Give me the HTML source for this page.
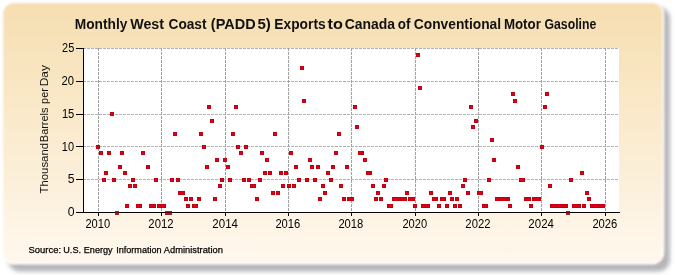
<!DOCTYPE html>
<html><head><meta charset="utf-8">
<style>
html,body{margin:0;padding:0;background:#fff;}
body{width:675px;height:275px;overflow:hidden;}
svg{display:block;}
text{font-family:"Liberation Sans",sans-serif;}
</style></head><body>
<svg width="675" height="275" viewBox="0 0 675 275">
<defs>
<linearGradient id="bg" x1="0" y1="0" x2="0" y2="1">
<stop offset="0" stop-color="#F6DEB0"/>
<stop offset="1" stop-color="#FFF8EE"/>
</linearGradient>
<filter id="sh" x="-5%" y="-5%" width="110%" height="110%"><feGaussianBlur stdDeviation="2.2"/></filter>
<filter id="soft" x="-2%" y="-2%" width="104%" height="104%"><feGaussianBlur stdDeviation="1.0"/></filter>
<filter id="gs" x="0" y="0" width="675" height="275" filterUnits="userSpaceOnUse"><feOffset dx="0" dy="0"/></filter>
</defs>
<rect x="8" y="7" width="662" height="264.5" rx="12" fill="#b6b6ba" filter="url(#sh)"/>
<rect x="2.3" y="2.3" width="661.2" height="261.4" rx="11.5" fill="url(#bg)" stroke="#fff" stroke-width="1.6" filter="url(#soft)"/>
<rect x="84" y="48" width="535" height="164" fill="#fff"/>
<g stroke="#a4a4a4" stroke-width="1" stroke-dasharray="3,1" fill="none" shape-rendering="crispEdges">
<line x1="84" y1="48.5" x2="619" y2="48.5" stroke="#b3b3b3" stroke-dashoffset="1"/>
<line x1="84" y1="81.5" x2="619" y2="81.5" stroke="#b3b3b3" stroke-dashoffset="1"/>
<line x1="84" y1="114.5" x2="619" y2="114.5" stroke="#b3b3b3" stroke-dashoffset="1"/>
<line x1="84" y1="146.5" x2="619" y2="146.5" stroke="#b3b3b3" stroke-dashoffset="1"/>
<line x1="84" y1="179.5" x2="619" y2="179.5" stroke="#b3b3b3" stroke-dashoffset="1"/>
<line x1="98.5" y1="48" x2="98.5" y2="212" stroke="#a0a0a0"/>
<line x1="161.5" y1="48" x2="161.5" y2="212" stroke="#a0a0a0"/>
<line x1="225.5" y1="48" x2="225.5" y2="212" stroke="#a0a0a0"/>
<line x1="288.5" y1="48" x2="288.5" y2="212" stroke="#a0a0a0"/>
<line x1="351.5" y1="48" x2="351.5" y2="212" stroke="#a0a0a0"/>
<line x1="415.5" y1="48" x2="415.5" y2="212" stroke="#a0a0a0"/>
<line x1="478.5" y1="48" x2="478.5" y2="212" stroke="#a0a0a0"/>
<line x1="541.5" y1="48" x2="541.5" y2="212" stroke="#a0a0a0"/>
<line x1="605.5" y1="48" x2="605.5" y2="212" stroke="#a0a0a0"/>
</g>
<g fill="#B8000E">
<rect x="96" y="145" width="4" height="4"/>
<rect x="99" y="151" width="4" height="4"/>
<rect x="102" y="178" width="4" height="4"/>
<rect x="104" y="171" width="4" height="4"/>
<rect x="107" y="151" width="4" height="4"/>
<rect x="110" y="112" width="4" height="4"/>
<rect x="112" y="178" width="4" height="4"/>
<rect x="118" y="165" width="4" height="4"/>
<rect x="120" y="151" width="4" height="4"/>
<rect x="123" y="171" width="4" height="4"/>
<rect x="125" y="204" width="4" height="4"/>
<rect x="128" y="184" width="4" height="4"/>
<rect x="131" y="178" width="4" height="4"/>
<rect x="133" y="184" width="4" height="4"/>
<rect x="136" y="204" width="4" height="4"/>
<rect x="138" y="204" width="4" height="4"/>
<rect x="141" y="151" width="4" height="4"/>
<rect x="146" y="165" width="4" height="4"/>
<rect x="149" y="204" width="4" height="4"/>
<rect x="152" y="204" width="4" height="4"/>
<rect x="154" y="178" width="4" height="4"/>
<rect x="157" y="204" width="4" height="4"/>
<rect x="160" y="204" width="4" height="4"/>
<rect x="162" y="204" width="4" height="4"/>
<rect x="170" y="178" width="4" height="4"/>
<rect x="173" y="132" width="4" height="4"/>
<rect x="176" y="178" width="4" height="4"/>
<rect x="178" y="191" width="4" height="4"/>
<rect x="181" y="191" width="4" height="4"/>
<rect x="184" y="197" width="4" height="4"/>
<rect x="186" y="204" width="4" height="4"/>
<rect x="189" y="197" width="4" height="4"/>
<rect x="192" y="204" width="4" height="4"/>
<rect x="194" y="204" width="4" height="4"/>
<rect x="197" y="197" width="4" height="4"/>
<rect x="199" y="132" width="4" height="4"/>
<rect x="202" y="145" width="4" height="4"/>
<rect x="205" y="165" width="4" height="4"/>
<rect x="207" y="105" width="4" height="4"/>
<rect x="210" y="119" width="4" height="4"/>
<rect x="213" y="197" width="4" height="4"/>
<rect x="215" y="158" width="4" height="4"/>
<rect x="218" y="184" width="4" height="4"/>
<rect x="220" y="178" width="4" height="4"/>
<rect x="223" y="158" width="4" height="4"/>
<rect x="226" y="165" width="4" height="4"/>
<rect x="228" y="178" width="4" height="4"/>
<rect x="231" y="132" width="4" height="4"/>
<rect x="234" y="105" width="4" height="4"/>
<rect x="236" y="145" width="4" height="4"/>
<rect x="239" y="151" width="4" height="4"/>
<rect x="242" y="178" width="4" height="4"/>
<rect x="244" y="145" width="4" height="4"/>
<rect x="247" y="178" width="4" height="4"/>
<rect x="250" y="184" width="4" height="4"/>
<rect x="252" y="184" width="4" height="4"/>
<rect x="255" y="197" width="4" height="4"/>
<rect x="258" y="178" width="4" height="4"/>
<rect x="260" y="151" width="4" height="4"/>
<rect x="263" y="171" width="4" height="4"/>
<rect x="265" y="158" width="4" height="4"/>
<rect x="268" y="171" width="4" height="4"/>
<rect x="271" y="191" width="4" height="4"/>
<rect x="273" y="132" width="4" height="4"/>
<rect x="276" y="191" width="4" height="4"/>
<rect x="279" y="171" width="4" height="4"/>
<rect x="281" y="184" width="4" height="4"/>
<rect x="284" y="171" width="4" height="4"/>
<rect x="287" y="184" width="4" height="4"/>
<rect x="289" y="151" width="4" height="4"/>
<rect x="292" y="184" width="4" height="4"/>
<rect x="294" y="165" width="4" height="4"/>
<rect x="297" y="178" width="4" height="4"/>
<rect x="300" y="66" width="4" height="4"/>
<rect x="302" y="99" width="4" height="4"/>
<rect x="305" y="178" width="4" height="4"/>
<rect x="308" y="158" width="4" height="4"/>
<rect x="310" y="165" width="4" height="4"/>
<rect x="313" y="178" width="4" height="4"/>
<rect x="316" y="165" width="4" height="4"/>
<rect x="318" y="197" width="4" height="4"/>
<rect x="321" y="184" width="4" height="4"/>
<rect x="323" y="191" width="4" height="4"/>
<rect x="326" y="171" width="4" height="4"/>
<rect x="329" y="178" width="4" height="4"/>
<rect x="331" y="165" width="4" height="4"/>
<rect x="334" y="151" width="4" height="4"/>
<rect x="337" y="132" width="4" height="4"/>
<rect x="339" y="184" width="4" height="4"/>
<rect x="342" y="197" width="4" height="4"/>
<rect x="345" y="165" width="4" height="4"/>
<rect x="347" y="197" width="4" height="4"/>
<rect x="350" y="197" width="4" height="4"/>
<rect x="353" y="105" width="4" height="4"/>
<rect x="355" y="125" width="4" height="4"/>
<rect x="358" y="151" width="4" height="4"/>
<rect x="360" y="151" width="4" height="4"/>
<rect x="363" y="158" width="4" height="4"/>
<rect x="366" y="171" width="4" height="4"/>
<rect x="368" y="171" width="4" height="4"/>
<rect x="371" y="184" width="4" height="4"/>
<rect x="374" y="197" width="4" height="4"/>
<rect x="376" y="191" width="4" height="4"/>
<rect x="379" y="197" width="4" height="4"/>
<rect x="382" y="184" width="4" height="4"/>
<rect x="384" y="178" width="4" height="4"/>
<rect x="387" y="204" width="4" height="4"/>
<rect x="389" y="204" width="4" height="4"/>
<rect x="392" y="197" width="4" height="4"/>
<rect x="395" y="197" width="4" height="4"/>
<rect x="397" y="197" width="4" height="4"/>
<rect x="400" y="197" width="4" height="4"/>
<rect x="403" y="197" width="4" height="4"/>
<rect x="405" y="191" width="4" height="4"/>
<rect x="408" y="197" width="4" height="4"/>
<rect x="411" y="197" width="4" height="4"/>
<rect x="413" y="204" width="4" height="4"/>
<rect x="416" y="53" width="4" height="4"/>
<rect x="418" y="86" width="4" height="4"/>
<rect x="421" y="204" width="4" height="4"/>
<rect x="424" y="204" width="4" height="4"/>
<rect x="426" y="204" width="4" height="4"/>
<rect x="429" y="191" width="4" height="4"/>
<rect x="432" y="197" width="4" height="4"/>
<rect x="434" y="197" width="4" height="4"/>
<rect x="437" y="204" width="4" height="4"/>
<rect x="440" y="197" width="4" height="4"/>
<rect x="442" y="197" width="4" height="4"/>
<rect x="445" y="204" width="4" height="4"/>
<rect x="448" y="191" width="4" height="4"/>
<rect x="450" y="197" width="4" height="4"/>
<rect x="453" y="204" width="4" height="4"/>
<rect x="455" y="197" width="4" height="4"/>
<rect x="458" y="204" width="4" height="4"/>
<rect x="461" y="184" width="4" height="4"/>
<rect x="463" y="178" width="4" height="4"/>
<rect x="466" y="191" width="4" height="4"/>
<rect x="469" y="105" width="4" height="4"/>
<rect x="471" y="125" width="4" height="4"/>
<rect x="474" y="119" width="4" height="4"/>
<rect x="477" y="191" width="4" height="4"/>
<rect x="479" y="191" width="4" height="4"/>
<rect x="482" y="204" width="4" height="4"/>
<rect x="484" y="204" width="4" height="4"/>
<rect x="487" y="178" width="4" height="4"/>
<rect x="490" y="138" width="4" height="4"/>
<rect x="492" y="158" width="4" height="4"/>
<rect x="495" y="197" width="4" height="4"/>
<rect x="498" y="197" width="4" height="4"/>
<rect x="500" y="197" width="4" height="4"/>
<rect x="503" y="197" width="4" height="4"/>
<rect x="506" y="197" width="4" height="4"/>
<rect x="508" y="204" width="4" height="4"/>
<rect x="511" y="92" width="4" height="4"/>
<rect x="513" y="99" width="4" height="4"/>
<rect x="516" y="165" width="4" height="4"/>
<rect x="519" y="178" width="4" height="4"/>
<rect x="521" y="178" width="4" height="4"/>
<rect x="524" y="197" width="4" height="4"/>
<rect x="527" y="197" width="4" height="4"/>
<rect x="529" y="204" width="4" height="4"/>
<rect x="532" y="197" width="4" height="4"/>
<rect x="535" y="197" width="4" height="4"/>
<rect x="537" y="197" width="4" height="4"/>
<rect x="540" y="145" width="4" height="4"/>
<rect x="543" y="105" width="4" height="4"/>
<rect x="545" y="92" width="4" height="4"/>
<rect x="548" y="184" width="4" height="4"/>
<rect x="550" y="204" width="4" height="4"/>
<rect x="553" y="204" width="4" height="4"/>
<rect x="556" y="204" width="4" height="4"/>
<rect x="558" y="204" width="4" height="4"/>
<rect x="561" y="204" width="4" height="4"/>
<rect x="564" y="204" width="4" height="4"/>
<rect x="569" y="178" width="4" height="4"/>
<rect x="572" y="204" width="4" height="4"/>
<rect x="574" y="204" width="4" height="4"/>
<rect x="577" y="204" width="4" height="4"/>
<rect x="580" y="171" width="4" height="4"/>
<rect x="582" y="204" width="4" height="4"/>
<rect x="585" y="191" width="4" height="4"/>
<rect x="587" y="197" width="4" height="4"/>
<rect x="590" y="204" width="4" height="4"/>
<rect x="593" y="204" width="4" height="4"/>
<rect x="595" y="204" width="4" height="4"/>
<rect x="598" y="204" width="4" height="4"/>
<rect x="601" y="204" width="4" height="4"/>
</g>
<g fill="#DE001A">
<rect x="96.7" y="145.7" width="2.6" height="2.6"/>
<rect x="99.7" y="151.7" width="2.6" height="2.6"/>
<rect x="102.7" y="178.7" width="2.6" height="2.6"/>
<rect x="104.7" y="171.7" width="2.6" height="2.6"/>
<rect x="107.7" y="151.7" width="2.6" height="2.6"/>
<rect x="110.7" y="112.7" width="2.6" height="2.6"/>
<rect x="112.7" y="178.7" width="2.6" height="2.6"/>
<rect x="118.7" y="165.7" width="2.6" height="2.6"/>
<rect x="120.7" y="151.7" width="2.6" height="2.6"/>
<rect x="123.7" y="171.7" width="2.6" height="2.6"/>
<rect x="125.7" y="204.7" width="2.6" height="2.6"/>
<rect x="128.7" y="184.7" width="2.6" height="2.6"/>
<rect x="131.7" y="178.7" width="2.6" height="2.6"/>
<rect x="133.7" y="184.7" width="2.6" height="2.6"/>
<rect x="136.7" y="204.7" width="2.6" height="2.6"/>
<rect x="138.7" y="204.7" width="2.6" height="2.6"/>
<rect x="141.7" y="151.7" width="2.6" height="2.6"/>
<rect x="146.7" y="165.7" width="2.6" height="2.6"/>
<rect x="149.7" y="204.7" width="2.6" height="2.6"/>
<rect x="152.7" y="204.7" width="2.6" height="2.6"/>
<rect x="154.7" y="178.7" width="2.6" height="2.6"/>
<rect x="157.7" y="204.7" width="2.6" height="2.6"/>
<rect x="160.7" y="204.7" width="2.6" height="2.6"/>
<rect x="162.7" y="204.7" width="2.6" height="2.6"/>
<rect x="170.7" y="178.7" width="2.6" height="2.6"/>
<rect x="173.7" y="132.7" width="2.6" height="2.6"/>
<rect x="176.7" y="178.7" width="2.6" height="2.6"/>
<rect x="178.7" y="191.7" width="2.6" height="2.6"/>
<rect x="181.7" y="191.7" width="2.6" height="2.6"/>
<rect x="184.7" y="197.7" width="2.6" height="2.6"/>
<rect x="186.7" y="204.7" width="2.6" height="2.6"/>
<rect x="189.7" y="197.7" width="2.6" height="2.6"/>
<rect x="192.7" y="204.7" width="2.6" height="2.6"/>
<rect x="194.7" y="204.7" width="2.6" height="2.6"/>
<rect x="197.7" y="197.7" width="2.6" height="2.6"/>
<rect x="199.7" y="132.7" width="2.6" height="2.6"/>
<rect x="202.7" y="145.7" width="2.6" height="2.6"/>
<rect x="205.7" y="165.7" width="2.6" height="2.6"/>
<rect x="207.7" y="105.7" width="2.6" height="2.6"/>
<rect x="210.7" y="119.7" width="2.6" height="2.6"/>
<rect x="213.7" y="197.7" width="2.6" height="2.6"/>
<rect x="215.7" y="158.7" width="2.6" height="2.6"/>
<rect x="218.7" y="184.7" width="2.6" height="2.6"/>
<rect x="220.7" y="178.7" width="2.6" height="2.6"/>
<rect x="223.7" y="158.7" width="2.6" height="2.6"/>
<rect x="226.7" y="165.7" width="2.6" height="2.6"/>
<rect x="228.7" y="178.7" width="2.6" height="2.6"/>
<rect x="231.7" y="132.7" width="2.6" height="2.6"/>
<rect x="234.7" y="105.7" width="2.6" height="2.6"/>
<rect x="236.7" y="145.7" width="2.6" height="2.6"/>
<rect x="239.7" y="151.7" width="2.6" height="2.6"/>
<rect x="242.7" y="178.7" width="2.6" height="2.6"/>
<rect x="244.7" y="145.7" width="2.6" height="2.6"/>
<rect x="247.7" y="178.7" width="2.6" height="2.6"/>
<rect x="250.7" y="184.7" width="2.6" height="2.6"/>
<rect x="252.7" y="184.7" width="2.6" height="2.6"/>
<rect x="255.7" y="197.7" width="2.6" height="2.6"/>
<rect x="258.7" y="178.7" width="2.6" height="2.6"/>
<rect x="260.7" y="151.7" width="2.6" height="2.6"/>
<rect x="263.7" y="171.7" width="2.6" height="2.6"/>
<rect x="265.7" y="158.7" width="2.6" height="2.6"/>
<rect x="268.7" y="171.7" width="2.6" height="2.6"/>
<rect x="271.7" y="191.7" width="2.6" height="2.6"/>
<rect x="273.7" y="132.7" width="2.6" height="2.6"/>
<rect x="276.7" y="191.7" width="2.6" height="2.6"/>
<rect x="279.7" y="171.7" width="2.6" height="2.6"/>
<rect x="281.7" y="184.7" width="2.6" height="2.6"/>
<rect x="284.7" y="171.7" width="2.6" height="2.6"/>
<rect x="287.7" y="184.7" width="2.6" height="2.6"/>
<rect x="289.7" y="151.7" width="2.6" height="2.6"/>
<rect x="292.7" y="184.7" width="2.6" height="2.6"/>
<rect x="294.7" y="165.7" width="2.6" height="2.6"/>
<rect x="297.7" y="178.7" width="2.6" height="2.6"/>
<rect x="300.7" y="66.7" width="2.6" height="2.6"/>
<rect x="302.7" y="99.7" width="2.6" height="2.6"/>
<rect x="305.7" y="178.7" width="2.6" height="2.6"/>
<rect x="308.7" y="158.7" width="2.6" height="2.6"/>
<rect x="310.7" y="165.7" width="2.6" height="2.6"/>
<rect x="313.7" y="178.7" width="2.6" height="2.6"/>
<rect x="316.7" y="165.7" width="2.6" height="2.6"/>
<rect x="318.7" y="197.7" width="2.6" height="2.6"/>
<rect x="321.7" y="184.7" width="2.6" height="2.6"/>
<rect x="323.7" y="191.7" width="2.6" height="2.6"/>
<rect x="326.7" y="171.7" width="2.6" height="2.6"/>
<rect x="329.7" y="178.7" width="2.6" height="2.6"/>
<rect x="331.7" y="165.7" width="2.6" height="2.6"/>
<rect x="334.7" y="151.7" width="2.6" height="2.6"/>
<rect x="337.7" y="132.7" width="2.6" height="2.6"/>
<rect x="339.7" y="184.7" width="2.6" height="2.6"/>
<rect x="342.7" y="197.7" width="2.6" height="2.6"/>
<rect x="345.7" y="165.7" width="2.6" height="2.6"/>
<rect x="347.7" y="197.7" width="2.6" height="2.6"/>
<rect x="350.7" y="197.7" width="2.6" height="2.6"/>
<rect x="353.7" y="105.7" width="2.6" height="2.6"/>
<rect x="355.7" y="125.7" width="2.6" height="2.6"/>
<rect x="358.7" y="151.7" width="2.6" height="2.6"/>
<rect x="360.7" y="151.7" width="2.6" height="2.6"/>
<rect x="363.7" y="158.7" width="2.6" height="2.6"/>
<rect x="366.7" y="171.7" width="2.6" height="2.6"/>
<rect x="368.7" y="171.7" width="2.6" height="2.6"/>
<rect x="371.7" y="184.7" width="2.6" height="2.6"/>
<rect x="374.7" y="197.7" width="2.6" height="2.6"/>
<rect x="376.7" y="191.7" width="2.6" height="2.6"/>
<rect x="379.7" y="197.7" width="2.6" height="2.6"/>
<rect x="382.7" y="184.7" width="2.6" height="2.6"/>
<rect x="384.7" y="178.7" width="2.6" height="2.6"/>
<rect x="387.7" y="204.7" width="2.6" height="2.6"/>
<rect x="389.7" y="204.7" width="2.6" height="2.6"/>
<rect x="392.7" y="197.7" width="2.6" height="2.6"/>
<rect x="395.7" y="197.7" width="2.6" height="2.6"/>
<rect x="397.7" y="197.7" width="2.6" height="2.6"/>
<rect x="400.7" y="197.7" width="2.6" height="2.6"/>
<rect x="403.7" y="197.7" width="2.6" height="2.6"/>
<rect x="405.7" y="191.7" width="2.6" height="2.6"/>
<rect x="408.7" y="197.7" width="2.6" height="2.6"/>
<rect x="411.7" y="197.7" width="2.6" height="2.6"/>
<rect x="413.7" y="204.7" width="2.6" height="2.6"/>
<rect x="416.7" y="53.7" width="2.6" height="2.6"/>
<rect x="418.7" y="86.7" width="2.6" height="2.6"/>
<rect x="421.7" y="204.7" width="2.6" height="2.6"/>
<rect x="424.7" y="204.7" width="2.6" height="2.6"/>
<rect x="426.7" y="204.7" width="2.6" height="2.6"/>
<rect x="429.7" y="191.7" width="2.6" height="2.6"/>
<rect x="432.7" y="197.7" width="2.6" height="2.6"/>
<rect x="434.7" y="197.7" width="2.6" height="2.6"/>
<rect x="437.7" y="204.7" width="2.6" height="2.6"/>
<rect x="440.7" y="197.7" width="2.6" height="2.6"/>
<rect x="442.7" y="197.7" width="2.6" height="2.6"/>
<rect x="445.7" y="204.7" width="2.6" height="2.6"/>
<rect x="448.7" y="191.7" width="2.6" height="2.6"/>
<rect x="450.7" y="197.7" width="2.6" height="2.6"/>
<rect x="453.7" y="204.7" width="2.6" height="2.6"/>
<rect x="455.7" y="197.7" width="2.6" height="2.6"/>
<rect x="458.7" y="204.7" width="2.6" height="2.6"/>
<rect x="461.7" y="184.7" width="2.6" height="2.6"/>
<rect x="463.7" y="178.7" width="2.6" height="2.6"/>
<rect x="466.7" y="191.7" width="2.6" height="2.6"/>
<rect x="469.7" y="105.7" width="2.6" height="2.6"/>
<rect x="471.7" y="125.7" width="2.6" height="2.6"/>
<rect x="474.7" y="119.7" width="2.6" height="2.6"/>
<rect x="477.7" y="191.7" width="2.6" height="2.6"/>
<rect x="479.7" y="191.7" width="2.6" height="2.6"/>
<rect x="482.7" y="204.7" width="2.6" height="2.6"/>
<rect x="484.7" y="204.7" width="2.6" height="2.6"/>
<rect x="487.7" y="178.7" width="2.6" height="2.6"/>
<rect x="490.7" y="138.7" width="2.6" height="2.6"/>
<rect x="492.7" y="158.7" width="2.6" height="2.6"/>
<rect x="495.7" y="197.7" width="2.6" height="2.6"/>
<rect x="498.7" y="197.7" width="2.6" height="2.6"/>
<rect x="500.7" y="197.7" width="2.6" height="2.6"/>
<rect x="503.7" y="197.7" width="2.6" height="2.6"/>
<rect x="506.7" y="197.7" width="2.6" height="2.6"/>
<rect x="508.7" y="204.7" width="2.6" height="2.6"/>
<rect x="511.7" y="92.7" width="2.6" height="2.6"/>
<rect x="513.7" y="99.7" width="2.6" height="2.6"/>
<rect x="516.7" y="165.7" width="2.6" height="2.6"/>
<rect x="519.7" y="178.7" width="2.6" height="2.6"/>
<rect x="521.7" y="178.7" width="2.6" height="2.6"/>
<rect x="524.7" y="197.7" width="2.6" height="2.6"/>
<rect x="527.7" y="197.7" width="2.6" height="2.6"/>
<rect x="529.7" y="204.7" width="2.6" height="2.6"/>
<rect x="532.7" y="197.7" width="2.6" height="2.6"/>
<rect x="535.7" y="197.7" width="2.6" height="2.6"/>
<rect x="537.7" y="197.7" width="2.6" height="2.6"/>
<rect x="540.7" y="145.7" width="2.6" height="2.6"/>
<rect x="543.7" y="105.7" width="2.6" height="2.6"/>
<rect x="545.7" y="92.7" width="2.6" height="2.6"/>
<rect x="548.7" y="184.7" width="2.6" height="2.6"/>
<rect x="550.7" y="204.7" width="2.6" height="2.6"/>
<rect x="553.7" y="204.7" width="2.6" height="2.6"/>
<rect x="556.7" y="204.7" width="2.6" height="2.6"/>
<rect x="558.7" y="204.7" width="2.6" height="2.6"/>
<rect x="561.7" y="204.7" width="2.6" height="2.6"/>
<rect x="564.7" y="204.7" width="2.6" height="2.6"/>
<rect x="569.7" y="178.7" width="2.6" height="2.6"/>
<rect x="572.7" y="204.7" width="2.6" height="2.6"/>
<rect x="574.7" y="204.7" width="2.6" height="2.6"/>
<rect x="577.7" y="204.7" width="2.6" height="2.6"/>
<rect x="580.7" y="171.7" width="2.6" height="2.6"/>
<rect x="582.7" y="204.7" width="2.6" height="2.6"/>
<rect x="585.7" y="191.7" width="2.6" height="2.6"/>
<rect x="587.7" y="197.7" width="2.6" height="2.6"/>
<rect x="590.7" y="204.7" width="2.6" height="2.6"/>
<rect x="593.7" y="204.7" width="2.6" height="2.6"/>
<rect x="595.7" y="204.7" width="2.6" height="2.6"/>
<rect x="598.7" y="204.7" width="2.6" height="2.6"/>
<rect x="601.7" y="204.7" width="2.6" height="2.6"/>
</g>

<g stroke="#000" stroke-width="1" shape-rendering="crispEdges">
<line x1="83.5" y1="48" x2="83.5" y2="213"/>
<line x1="76" y1="212.5" x2="620" y2="212.5"/>
<line x1="76" y1="48.5" x2="83" y2="48.5"/>
<line x1="76" y1="81.5" x2="83" y2="81.5"/>
<line x1="76" y1="114.5" x2="83" y2="114.5"/>
<line x1="76" y1="146.5" x2="83" y2="146.5"/>
<line x1="76" y1="179.5" x2="83" y2="179.5"/>
<line x1="76" y1="212.5" x2="83" y2="212.5"/>
<line x1="98.5" y1="212" x2="98.5" y2="216"/>
<line x1="161.5" y1="212" x2="161.5" y2="216"/>
<line x1="225.5" y1="212" x2="225.5" y2="216"/>
<line x1="288.5" y1="212" x2="288.5" y2="216"/>
<line x1="351.5" y1="212" x2="351.5" y2="216"/>
<line x1="415.5" y1="212" x2="415.5" y2="216"/>
<line x1="478.5" y1="212" x2="478.5" y2="216"/>
<line x1="541.5" y1="212" x2="541.5" y2="216"/>
<line x1="605.5" y1="212" x2="605.5" y2="216"/>
</g>
<g>
<rect x="115" y="211" width="4" height="4" fill="#b01a1a"/><rect x="115" y="212" width="4" height="1" fill="#5a0c0c"/>
<rect x="165" y="211" width="4" height="4" fill="#b01a1a"/><rect x="165" y="212" width="4" height="1" fill="#5a0c0c"/>
<rect x="168" y="211" width="4" height="4" fill="#b01a1a"/><rect x="168" y="212" width="4" height="1" fill="#5a0c0c"/>
<rect x="566" y="211" width="4" height="4" fill="#b01a1a"/><rect x="566" y="212" width="4" height="1" fill="#5a0c0c"/>
</g>
<g filter="url(#gs)">
<g font-size="12" fill="#000">
<text x="62.07" y="52.20" textLength="12.20" lengthAdjust="spacingAndGlyphs">25</text>
<text x="61.55" y="85.00" textLength="12.46" lengthAdjust="spacingAndGlyphs">20</text>
<text x="61.93" y="117.80" textLength="12.39" lengthAdjust="spacingAndGlyphs">15</text>
<text x="61.85" y="150.60" textLength="12.22" lengthAdjust="spacingAndGlyphs">10</text>
<text x="67.71" y="183.40" textLength="6.77" lengthAdjust="spacingAndGlyphs">5</text>
<text x="67.70" y="216.20" textLength="6.84" lengthAdjust="spacingAndGlyphs">0</text>
<text x="85.38" y="228" textLength="24.70" lengthAdjust="spacingAndGlyphs">2010</text>
<text x="148.37" y="228" textLength="25.14" lengthAdjust="spacingAndGlyphs">2012</text>
<text x="212.37" y="228" textLength="25.54" lengthAdjust="spacingAndGlyphs">2014</text>
<text x="275.38" y="228" textLength="24.94" lengthAdjust="spacingAndGlyphs">2016</text>
<text x="338.38" y="228" textLength="24.96" lengthAdjust="spacingAndGlyphs">2018</text>
<text x="402.38" y="228" textLength="24.70" lengthAdjust="spacingAndGlyphs">2020</text>
<text x="465.37" y="228" textLength="25.14" lengthAdjust="spacingAndGlyphs">2022</text>
<text x="528.37" y="228" textLength="25.54" lengthAdjust="spacingAndGlyphs">2024</text>
<text x="592.38" y="228" textLength="24.94" lengthAdjust="spacingAndGlyphs">2026</text>
</g>
<g font-size="14" font-weight="bold" fill="#111"><text x="74.83" y="29" textLength="52.50" lengthAdjust="spacingAndGlyphs">Monthly</text><text x="130.23" y="29" textLength="33.81" lengthAdjust="spacingAndGlyphs">West</text><text x="168.50" y="29" textLength="38.04" lengthAdjust="spacingAndGlyphs">Coast</text><text x="210.85" y="29" textLength="44.78" lengthAdjust="spacingAndGlyphs">(PADD</text><text x="257.43" y="29" textLength="13.39" lengthAdjust="spacingAndGlyphs">5)</text><text x="274.32" y="29" textLength="51.33" lengthAdjust="spacingAndGlyphs">Exports</text><text x="327.52" y="29" textLength="15.35" lengthAdjust="spacingAndGlyphs">to</text><text x="344.81" y="29" textLength="50.26" lengthAdjust="spacingAndGlyphs">Canada</text><text x="397.80" y="29" textLength="12.68" lengthAdjust="spacingAndGlyphs">of</text><text x="413.82" y="29" textLength="87.30" lengthAdjust="spacingAndGlyphs">Conventional</text><text x="503.89" y="29" textLength="36.94" lengthAdjust="spacingAndGlyphs">Motor</text><text x="544.47" y="29" textLength="51.82" lengthAdjust="spacingAndGlyphs">Gasoline</text></g>
<g font-size="11.5" fill="#111" transform="translate(48,0) rotate(-90)"><text x="-193.45" y="0" textLength="50.49" lengthAdjust="spacingAndGlyphs">Thousand</text><text x="-142.14" y="0" textLength="34.59" lengthAdjust="spacingAndGlyphs">Barrels</text><text x="-103.92" y="0" textLength="15.76" lengthAdjust="spacingAndGlyphs">per</text><text x="-86.25" y="0" textLength="21.11" lengthAdjust="spacingAndGlyphs">Day</text></g>
<g font-size="9.5" fill="#000" stroke="#000" stroke-width="0.25"><text x="28.58" y="253" textLength="32.44" lengthAdjust="spacingAndGlyphs">Source:</text><text x="63.27" y="253" textLength="17.73" lengthAdjust="spacingAndGlyphs">U.S.</text><text x="83.80" y="253" textLength="28.83" lengthAdjust="spacingAndGlyphs">Energy</text><text x="116.25" y="253" textLength="45.29" lengthAdjust="spacingAndGlyphs">Information</text><text x="163.87" y="253" textLength="59.01" lengthAdjust="spacingAndGlyphs">Administration</text></g>
</g>
</svg>
</body></html>
